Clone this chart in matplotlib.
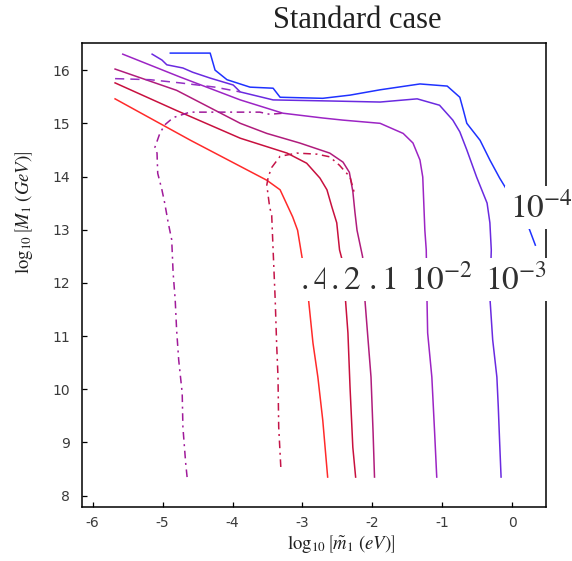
import matplotlib
matplotlib.use("Agg")
import matplotlib.pyplot as plt

plt.rcParams['mathtext.fontset'] = 'stix'
plt.rcParams['axes.unicode_minus'] = False

# ---- contour lines in the (log10 m1~, log10 M1) plane ----
c04_x = [-5.68, -4.60, -3.51, -3.32, -3.14, -3.07, -3.00, -2.92, -2.85, -2.78, -2.71, -2.64]
c04_y = [15.46, 14.68, 13.93, 13.75, 13.24, 12.99, 12.43, 11.77, 10.87, 10.23, 9.42, 8.35]

c02_x = [-5.68, -4.80, -3.89, -3.22, -2.94, -2.75, -2.65, -2.58, -2.51, -2.47, -2.44, -2.39, -2.35, -2.32, -2.28, -2.24]
c02_y = [15.76, 15.24, 14.72, 14.44, 14.25, 13.97, 13.75, 13.43, 13.13, 12.62, 12.47, 11.77, 11.06, 10.04, 8.91, 8.35]

c01_x = [-5.68, -4.80, -3.89, -3.51, -3.04, -2.61, -2.42, -2.33, -2.28, -2.25, -2.22, -2.14, -2.11, -2.07, -2.02, -1.99, -1.97]
c01_y = [16.02, 15.62, 15.00, 14.81, 14.63, 14.44, 14.27, 14.08, 13.72, 13.33, 12.99, 12.49, 11.73, 11.06, 10.23, 9.18, 8.35]

c1e2_x = [-5.57, -4.75, -3.89, -3.28, -2.71, -2.42, -1.89, -1.56, -1.42, -1.32, -1.28, -1.25, -1.23, -1.22, -1.21, -1.15, -1.11, -1.08]
c1e2_y = [16.30, 15.87, 15.44, 15.19, 15.10, 15.06, 15.00, 14.81, 14.63, 14.31, 13.99, 12.99, 12.62, 11.73, 11.06, 10.23, 9.18, 8.35]

c1e3_x = [-5.15, -5.01, -4.94, -4.71, -4.57, -4.32, -3.99, -3.89, -3.42, -2.61, -1.89, -1.36, -1.04, -0.85, -0.75, -0.65,
          -0.51, -0.36, -0.32, -0.30, -0.32, -0.28, -0.22, -0.20, -0.18, -0.16]
c1e3_y = [16.30, 16.19, 16.10, 16.04, 15.96, 15.85, 15.72, 15.59, 15.44, 15.42, 15.40, 15.46, 15.34, 15.06, 14.84, 14.50,
          13.99, 13.50, 13.13, 12.62, 11.73, 10.93, 10.23, 9.67, 8.99, 8.35]

c1e4_x = [-4.89, -4.32, -4.25, -4.08, -3.75, -3.42, -3.32, -2.71, -2.32, -1.89, -1.32, -0.93, -0.75, -0.70, -0.65,
          -0.46, -0.32, -0.18, 0.21, 0.33]
c1e4_y = [16.32, 16.32, 16.00, 15.82, 15.68, 15.66, 15.49, 15.47, 15.53, 15.63, 15.74, 15.70, 15.49, 15.25, 15.00,
          14.68, 14.31, 13.97, 13.13, 12.71]

# alternative contours (broken lines)
alt01_x = [-3.31, -3.34, -3.35, -3.37, -3.39, -3.42, -3.44, -3.47, -3.51, -3.49, -3.44, -3.32, -3.08, -2.79, -2.61, -2.47, -2.32, -2.25]
alt01_y = [8.54, 9.29, 10.23, 10.87, 11.68, 12.62, 13.27, 13.43, 13.84, 13.99, 14.17, 14.38, 14.44, 14.42, 14.37, 14.21, 13.99, 13.65]

alt1e2_x = [-4.65, -4.67, -4.71, -4.72, -4.77, -4.80, -4.82, -4.85, -4.87, -4.92, -4.97, -5.01, -5.07, -5.08, -5.11,
            -5.04, -4.97, -4.89, -4.82, -4.61, -3.79, -3.61, -3.47, -3.28]
alt1e2_y = [8.35, 8.61, 9.29, 9.93, 10.55, 11.12, 11.68, 12.19, 12.81, 13.13, 13.50, 13.75, 14.06, 14.44, 14.55,
            14.81, 14.97, 15.06, 15.12, 15.21, 15.21, 15.21, 15.17, 15.19]

alt1e3_x = [-5.68, -5.18, -4.75, -4.25, -3.89]
alt1e3_y = [15.84, 15.82, 15.76, 15.68, 15.59]

level_text = [r'$.4$', r'$.2$', r'$.1$', r'$10^{-2}$', r'$10^{-3}$', r'$10^{-4}$']

x_ticks = [-6, -5, -4, -3, -2, -1, 0]
y_ticks = [8, 9, 10, 11, 12, 13, 14, 15, 16]

fig = plt.figure(figsize=(5.72, 5.61), dpi=100)
ax = fig.add_axes([0.1442, 0.0968, 0.8098, 0.8260])

lw = 1.1
solid = [
    (c04_x, c04_y, '#ff2a2a'),
    (c02_x, c02_y, '#c8103e'),
    (c01_x, c01_y, '#b01c7c'),
    (c1e2_x, c1e2_y, '#9c24c4'),
    (c1e3_x, c1e3_y, '#6a2ae0'),
    (c1e4_x, c1e4_y, '#1f32ff'),
]
for xs, ys, col in solid:
    ax.plot(xs, ys, color=col, lw=lw, solid_joinstyle='round')

dashdot = (0, (5, 3, 1.3, 3))
ax.plot(alt01_x, alt01_y, color='#c41448', lw=lw, linestyle=dashdot)
ax.plot(alt1e2_x, alt1e2_y, color='#a01a9a', lw=lw, linestyle=dashdot)
ax.plot(alt1e3_x, alt1e3_y, color='#9430c4', lw=lw, linestyle=(0, (6, 4)))

# level labels, drawn over the lines with an opaque background
label_pos = [(-3.036, 11.885), (-2.608, 11.885), (-2.065, 11.885),
             (-1.463, 11.885), (-0.390, 11.885), (-0.033, 13.23)]
for txt, (lx, ly) in zip(level_text, label_pos):
    ax.text(lx, ly, txt, fontsize=24, color='#303030', ha='left', va='baseline',
            zorder=5, clip_on=False,
            bbox=dict(facecolor='white', edgecolor='none', pad=3.5))

ax.set_xlim(-6.146, 0.478)
ax.set_ylim(7.793, 16.504)
ax.set_xticks(x_ticks)
ax.set_yticks(y_ticks)
ax.tick_params(direction='in', length=3.5, width=0.9, labelsize=10,
               labelcolor='#3a3a3a', top=False, right=False)
ax.tick_params(axis='y', pad=9)
ax.tick_params(axis='x', pad=7)
for sp in ax.spines.values():
    sp.set_linewidth(1.1)

ax.set_xlabel(r'$\log_{10}\left[\tilde{m}_1\;(eV)\right]$', fontsize=13.5, color='#202020')
ax.xaxis.set_label_coords(0.558, -0.056)
ax.set_ylabel(r'$\log_{10}\left[M_1\;(GeV)\right]$', fontsize=13.5, color='#202020')
ax.yaxis.set_label_coords(-0.1025, 0.636)

fig.text(357 / 572, 1 - 28 / 561, 'Standard case', family='Liberation Serif',
         fontsize=22, color='#202020', ha='center', va='baseline')

fig.savefig('out.png', dpi=100)
